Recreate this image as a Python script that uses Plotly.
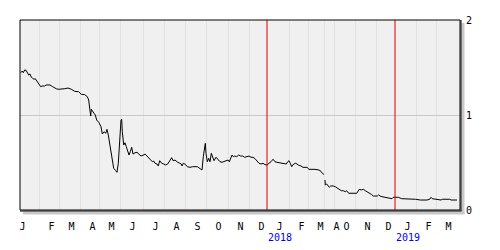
import plotly.graph_objects as go

# trading-session position (x) and price (y)
session = [0.7, 2.3, 3.3, 4.7, 6, 7.3, 8.7, 10, 11.3, 12.7, 14, 15.3, 16.7, 18, 19.3, 20.7,
           22, 24.7, 26, 30, 32.7, 36.7, 39.3, 43.3, 44.7, 48, 51.3, 54.7, 58.7, 61.3, 64.7,
           67.3, 68.7, 69.3, 70, 70.7, 71.3, 72.7, 74, 75.3, 76.7, 79, 81, 82.3, 84.3, 85.7,
           87, 88.3, 89.7, 91, 92.3, 93.7, 95.7, 97, 98.3, 99.7, 101, 101.7, 102.3, 103.7,
           105, 106.3, 107.7, 109, 110.3, 111.7, 113, 115, 117, 119, 121, 123, 125, 127, 129,
           131, 132.3, 133.7, 135, 137, 138.3, 139.7, 141.7, 143.7, 145.7, 147.7, 149.7,
           151.7, 153, 155, 157.3, 159.3, 161.3, 162, 163.3, 165.3, 167.3, 170, 172.7, 177.3,
           180, 182, 183.3, 184.3, 185.3, 186, 187.3, 188.7, 190, 191.3, 192.7, 194, 196,
           198, 200, 202, 204, 206, 208, 209.3, 210.7, 212, 213.3, 214.7, 216.7, 218.7,
           220.7, 222.7, 224.7, 226.7, 229, 231, 233, 235, 237, 239, 241, 243, 245, 247,
           249, 251, 253, 255, 257, 259, 261.7, 264.3, 266.3, 267.7, 269, 270.3, 271.7,
           273.7, 275.7, 277, 278.3, 281, 283, 287, 289, 295, 297, 299, 301, 302.3, 304,
           304.5,
           305, 305.3, 306.7, 308, 309.3, 310.7, 313.3, 315.3, 317.3, 319.3, 321.3, 323.3,
           325.3, 326.7, 328.7, 336.7, 338, 339.3, 341.3, 343.3, 345.3, 347.3, 349.3, 351.3,
           353.3, 357.3, 358.7, 360, 362, 366, 370, 372, 373.3, 378.3, 381.7, 394.3, 395.7,
           400.3, 407, 409.7, 411, 412.3, 415.7, 421, 422.3, 429.7, 431, 437]
price = [1.445, 1.463, 1.445, 1.474, 1.471, 1.445, 1.421, 1.432, 1.397, 1.386, 1.376, 1.382,
         1.361, 1.340, 1.316, 1.298, 1.305, 1.305, 1.316, 1.316, 1.298, 1.274, 1.271, 1.271,
         1.277, 1.284, 1.271, 1.249, 1.245, 1.218, 1.214, 1.193, 1.158, 1.105, 1.053, 0.989,
         1.060, 1.032, 1.018, 1.000, 0.947, 0.919, 0.877, 0.800, 0.824, 0.807, 0.849, 0.789,
         0.708, 0.614, 0.526, 0.439, 0.414, 0.397, 0.492, 0.789, 0.947, 0.955, 0.824, 0.684,
         0.708, 0.666, 0.614, 0.579, 0.614, 0.660, 0.589, 0.603, 0.607, 0.589, 0.568, 0.576,
         0.589, 0.568, 0.544, 0.526, 0.508, 0.516, 0.492, 0.484, 0.463, 0.519, 0.492, 0.484,
         0.474, 0.484, 0.519, 0.551, 0.519, 0.526, 0.505, 0.492, 0.484, 0.463, 0.492, 0.481,
         0.456, 0.449, 0.456, 0.456, 0.439, 0.421, 0.561, 0.649, 0.702, 0.597, 0.508, 0.544,
         0.508, 0.597, 0.544, 0.519, 0.555, 0.526, 0.508, 0.502, 0.508, 0.519, 0.526, 0.508,
         0.544, 0.579, 0.561, 0.568, 0.561, 0.579, 0.568, 0.568, 0.555, 0.561, 0.568, 0.555,
         0.555, 0.540, 0.519, 0.492, 0.484, 0.492, 0.477, 0.474, 0.492, 0.508, 0.534, 0.508,
         0.502, 0.498, 0.492, 0.492, 0.484, 0.508, 0.519, 0.492, 0.456, 0.484, 0.492, 0.484,
         0.474, 0.463, 0.449, 0.449, 0.428, 0.428, 0.424, 0.421, 0.407, 0.386, 0.374,
         None,
         0.316, 0.263, 0.274, 0.253, 0.239, 0.253, 0.253, 0.245, 0.232, 0.218, 0.203, 0.203,
         0.193, 0.203, 0.176, 0.176, 0.203, 0.218, 0.211, 0.218, 0.203, 0.193, 0.176, 0.165,
         0.147, 0.147, 0.161, 0.147, 0.140, 0.134, 0.126, 0.119, 0.134, 0.134, 0.119, 0.119,
         0.113, 0.105, 0.105, 0.113, 0.134, 0.119, 0.113, 0.105, 0.113, 0.113, 0.105, 0.105]

month_labels = ["J", "F", "M", "A", "M", "J", "J", "A", "S", "O", "N", "D",
                "J", "F", "M", "A", "O", "N", "D", "J", "F", "M"]
month_starts = [-10, 19, 39, 60, 79, 100, 123, 144, 165, 186, 208, 229,
                247, 269, 288, 304, 314, 335, 356, 375, 396, 416]
year_labels = ["2018", "2019"]
year_starts = [247, 375]
y_ticks = [0, 1, 2]

LABEL_OFFSET = 12.5
X_RANGE = [0, 440]

fig = go.Figure()
fig.add_trace(go.Scatter(x=session, y=price, mode="lines",
                         line=dict(color="black", width=1), connectgaps=False,
                         hoverinfo="skip", showlegend=False))

font = dict(family="DejaVu Sans Mono", size=10, color="black")

shapes = []
for ys in year_starts:
    shapes.append(dict(type="line", xref="x", yref="paper", x0=ys, x1=ys, y0=0, y1=1,
                       line=dict(color="#e00000", width=1), layer="above"))
# drop shadow
shapes.append(dict(type="rect", xref="paper", yref="paper", x0=1 + 1.5 / 440, x1=1 + 4.5 / 440,
                   y0=-4 / 190, y1=1 - 3 / 190, line=dict(width=0), fillcolor="#c8c8c8"))
shapes.append(dict(type="rect", xref="paper", yref="paper", x0=3 / 440, x1=1 + 4.5 / 440,
                   y0=-4.5 / 190, y1=-1.5 / 190, line=dict(width=0), fillcolor="#c8c8c8"))
# frame
shapes.append(dict(type="rect", xref="paper", yref="paper", x0=0, x1=1, y0=0, y1=1,
                   line=dict(color="black", width=1)))
shapes.append(dict(type="line", xref="paper", yref="paper", x0=1 + 1 / 440, x1=1 + 1 / 440,
                   y0=-1 / 190, y1=1, line=dict(color="black", width=1)))
shapes.append(dict(type="line", xref="paper", yref="paper", x0=0, x1=1 + 1.5 / 440,
                   y0=-1 / 190, y1=-1 / 190, line=dict(color="black", width=1)))

annotations = []
for lab, ys in zip(year_labels, year_starts):
    annotations.append(dict(text=lab, x=ys + LABEL_OFFSET, y=0, xref="x", yref="paper",
                            showarrow=False, yanchor="middle", yshift=-27.5, borderpad=0,
                            font=dict(family="DejaVu Sans Mono", size=10, color="#0000ff")))

fig.update_layout(
    width=500, height=250,
    margin=dict(l=20, r=40, t=20, b=40),
    paper_bgcolor="white", plot_bgcolor="#f0f0f0",
    shapes=shapes, annotations=annotations,
    xaxis=dict(range=X_RANGE, showgrid=False, zeroline=False, showline=False,
               tickmode="array", tickvals=[m + LABEL_OFFSET for m in month_starts],
               ticktext=month_labels, ticks="outside", ticklen=7,
               tickcolor="rgba(0,0,0,0)", tickfont=font,
               minor=dict(tickmode="array",
                          tickvals=[m for m in month_starts if m > 0 and m not in year_starts],
                          showgrid=True, gridcolor="#e2e2e2", gridwidth=1, ticks="")),
    yaxis=dict(range=[0, 2], side="right", tickmode="array", tickvals=y_ticks,
               ticktext=[str(v) for v in y_ticks], showgrid=True, gridcolor="#c8c8c8",
               gridwidth=1, zeroline=False, showline=False, ticks="outside", ticklen=3,
               tickcolor="rgba(0,0,0,0)", tickfont=font),
)

fig.write_html("out.html")
